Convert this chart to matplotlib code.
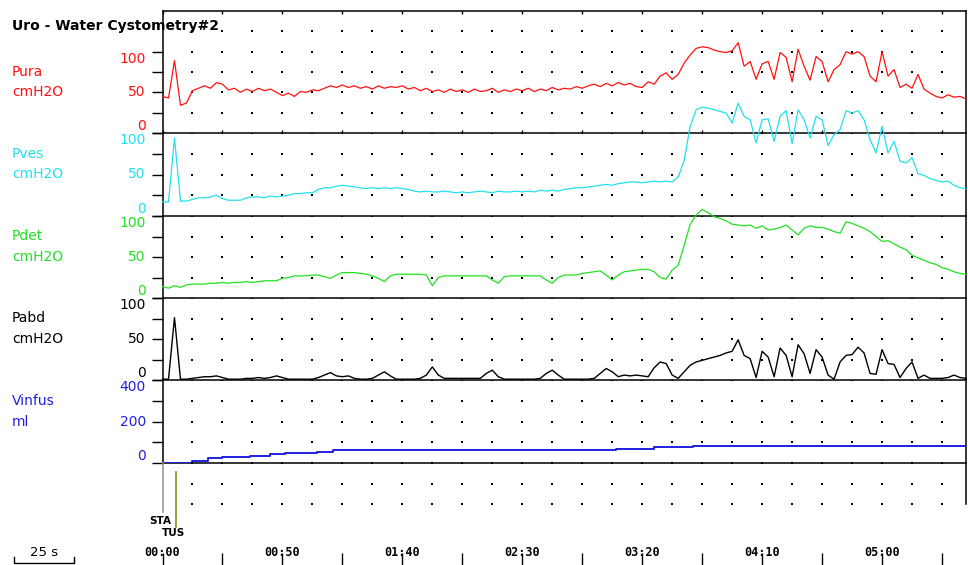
import numpy as np
import matplotlib.pyplot as plt
from matplotlib.transforms import blended_transform_factory

# sample time of the traces (s), one sample every 2.5 s
t = np.arange(0, 335.1, 2.5)

# pressures, cmH2O
pura = [45, 43, 89, 34, 37, 52, 55, 58, 55, 62,
        60, 53, 55, 50, 54, 51, 55, 52, 54, 50,
        46, 49, 45, 51, 50, 53, 52, 55, 58, 56,
        59, 56, 58, 55, 57, 54, 58, 55, 57, 56,
        58, 54, 56, 52, 55, 51, 53, 50, 54, 51,
        53, 50, 54, 51, 52, 55, 50, 53, 51, 54,
        52, 55, 51, 54, 52, 56, 53, 55, 54, 57,
        55, 58, 60, 57, 61, 58, 62, 59, 61, 57,
        56, 63, 60, 70, 74, 66, 72, 86, 96, 104,
        106, 105, 102, 100, 99, 101, 111, 82, 88, 66,
        85, 88, 66, 99, 93, 63, 103, 82, 65, 94,
        88, 63, 78, 84, 100, 97, 100, 94, 70, 63,
        100, 70, 78, 56, 60, 55, 72, 54, 49, 45,
        43, 47, 44, 45, 42]

pves = [17, 17, 94, 18, 18, 20, 22, 22, 23, 25,
        21, 19, 19, 19, 22, 23, 23, 22, 24, 23,
        24, 25, 27, 27, 28, 28, 32, 34, 34, 36,
        37, 36, 35, 34, 33, 34, 33, 34, 33, 34,
        33, 32, 30, 29, 30, 29, 29, 30, 29, 28,
        29, 28, 29, 30, 29, 28, 30, 29, 29, 30,
        29, 30, 29, 31, 30, 31, 30, 32, 33, 34,
        34, 35, 36, 37, 38, 37, 39, 40, 41, 41,
        40, 41, 42, 41, 42, 41, 47, 67, 108, 128,
        131, 130, 128, 126, 124, 112, 136, 120, 116, 88,
        116, 117, 90, 120, 127, 87, 128, 116, 94, 120,
        116, 85, 98, 104, 127, 124, 127, 116, 92, 76,
        108, 76, 90, 66, 64, 70, 51, 49, 45, 43,
        41, 42, 37, 34, 33]

pdet = [14, 12, 15, 13, 16, 17, 17, 17, 18, 18,
        19, 18, 19, 19, 20, 19, 20, 21, 21, 21,
        24, 25, 27, 27, 27, 28, 28, 26, 24, 28,
        31, 31, 31, 30, 29, 27, 24, 20, 27, 29,
        29, 29, 29, 29, 28, 15, 25, 27, 27, 27,
        27, 27, 27, 27, 27, 22, 18, 26, 27, 27,
        27, 27, 27, 27, 22, 18, 25, 28, 28, 28,
        30, 31, 32, 33, 28, 22, 28, 32, 33, 34,
        35, 35, 32, 25, 23, 34, 40, 64, 90, 101,
        108, 104, 99, 97, 94, 90, 89, 88, 89, 85,
        88, 83, 84, 86, 89, 83, 77, 85, 88, 86,
        86, 84, 81, 79, 93, 91, 88, 85, 81, 75,
        69, 70, 66, 62, 59, 52, 49, 46, 43, 41,
        37, 35, 32, 30, 29]

pabd = [1, 1, 76, 1, 1, 2, 3, 4, 4, 5,
        3, 1, 1, 1, 2, 2, 3, 2, 3, 5,
        3, 1, 1, 1, 1, 1, 3, 6, 9, 5,
        4, 5, 2, 1, 1, 2, 6, 10, 5, 1,
        1, 1, 1, 2, 6, 16, 6, 2, 2, 2,
        2, 2, 2, 2, 8, 12, 4, 1, 1, 1,
        1, 1, 1, 2, 8, 12, 6, 1, 1, 1,
        1, 1, 2, 8, 14, 10, 4, 6, 5, 6,
        5, 4, 15, 22, 20, 6, 2, 10, 18, 22,
        24, 26, 28, 30, 33, 35, 49, 30, 26, 3,
        35, 28, 4, 39, 30, 4, 43, 32, 8, 37,
        28, 6, 1, 22, 30, 31, 40, 33, 8, 7,
        37, 20, 19, 3, 14, 22, 2, 6, 2, 2,
        2, 3, 6, 3, 2]

# infused volume, ml (step changes)
vinf_t = [0, 12.5, 19, 25, 36.5, 45, 51, 64.5, 71, 189, 205, 221, 335]
vinf_v = [0, 11, 22, 27, 34, 42, 47, 55, 63, 67, 75, 82, 82]

# event markers
event_t = [0.2, 5.6]
event_lab = ['STA', 'TUS']
event_col = ['#9a9a9a', '#8c8c1e']

names = ['Pura', 'Pves', 'Pdet', 'Pabd', 'Vinfus']
units = ['cmH2O', 'cmH2O', 'cmH2O', 'cmH2O', 'ml']
colors = ['#ff1010', '#22e0ee', '#22e022', '#000000', '#2020e0']
ytops = [150, 100, 100, 100, 400]
majors = [[0, 50, 100], [0, 50, 100], [0, 50, 100], [0, 50, 100], [0, 200, 400]]
minors = [[25, 75], [25, 75], [25, 75], [25, 75], [100, 300]]
dot_levels = [[25, 50, 75, 100, 125], [25, 50, 75, 100], [25, 50, 75, 100],
              [25, 50, 75, 100], [100, 200, 300, 400]]

time_ticks = np.arange(0, 336, 25)
time_labels = ['00:00', '00:50', '01:40', '02:30', '03:20', '04:10', '05:00']
dot_t = np.arange(12.5, 335, 12.5)

##### layout (pixels of the 968x565 picture)
W, H = 968, 565
x0, x1 = 162.5, 966
tops = [11, 133, 216, 298, 380]
bottoms = [133, 216, 298, 380, 463]


def box(top, bottom):
    return [x0 / W, 1 - bottom / H, (x1 - x0) / W, (bottom - top) / H]


fig = plt.figure(figsize=(W / 100, H / 100), dpi=100)
plt.rcParams['font.family'] = ['DejaVu Sans']

for i in range(5):
    ax = fig.add_axes(box(tops[i], bottoms[i]))
    ax.set_facecolor('none')
    ax.set_xlim(0, 335)
    ax.set_ylim(0, ytops[i])

    # dotted grid
    gx, gy = np.meshgrid(dot_t, dot_levels[i])
    ax.scatter(gx.ravel(), gy.ravel(), s=1.6, marker='s', color='black', lw=0, zorder=1)

    # trace
    if i < 4:
        data = [pura, pves, pdet, pabd][i]
        ax.plot(t, data, color=colors[i], lw=0.9 if i < 3 else 1.0, clip_on=False, zorder=3)
    else:
        ax.step(vinf_t, vinf_v, where='post', color=colors[i], lw=1.4, zorder=3)

    for s in ['left', 'right', 'bottom']:
        ax.spines[s].set_linewidth(1.1)
    ax.spines['top'].set_visible(i == 0)
    ax.spines['top'].set_linewidth(1.1)

    ax.set_yticks(majors[i])
    ax.set_yticklabels([str(v) for v in majors[i]], fontsize=10, color=colors[i])
    ax.set_yticks(minors[i], minor=True)
    ax.tick_params(axis='y', which='both', length=8, width=1.0, pad=4, direction='out')
    for lab, va in zip(ax.get_yticklabels(), ['bottom', 'center', 'top']):
        lab.set_va(va)

    ax.set_xticks(time_ticks)
    ax.tick_params(axis='x', which='both', length=0, labelbottom=False)
    if i == 0:
        ax.tick_params(axis='x', top=True, direction='in', length=2.5, width=1.0)

    # channel name and unit
    tr = blended_transform_factory(fig.transFigure, ax.transData)
    ax.text(12 / W, majors[i][1] * 1.5, names[i], transform=tr, color=colors[i],
            fontsize=10, va='center', ha='left')
    ax.text(12 / W, majors[i][1], units[i], transform=tr, color=colors[i],
            fontsize=10, va='center', ha='left')

# status strip below the traces
axs = fig.add_axes(box(463, 504))
axs.set_facecolor('none')
axs.set_xlim(0, 335)
axs.set_ylim(0, 2)
for s in ['left', 'top', 'bottom']:
    axs.spines[s].set_visible(False)
axs.spines['right'].set_linewidth(1.1)
axs.set_xticks([])
axs.set_yticks([])
gx, gy = np.meshgrid(dot_t, [0, 1, 2])
axs.scatter(gx.ravel(), gy.ravel(), s=1.6, marker='s', color='black', lw=0, clip_on=False)
ev_y = [[2, -0.39], [1.56, -1.12]]
ev_ty = [-0.83, -1.41]
for et, lab, c, yy, ty in zip(event_t, event_lab, event_col, ev_y, ev_ty):
    axs.plot([et, et], yy, color=c, lw=1.2, clip_on=False)
    axs.text(et - 1.0, ty, lab, ha='center', va='center', fontsize=7.5,
             fontweight='bold', color='black')

# time axis
axt = fig.add_axes(box(540, 565))
axt.set_facecolor('none')
axt.set_xlim(0, 335)
axt.set_ylim(0, 1)
for s in axt.spines.values():
    s.set_visible(False)
axt.set_yticks([])
axt.set_xticks(time_ticks)
axt.tick_params(axis='x', direction='in', length=8.5, width=1.0, labelbottom=False)
for v, lab in zip(time_ticks[::2], time_labels):
    axt.text(v, 0.48, lab, ha='center', va='center', fontsize=8.5,
             fontweight='bold', family='DejaVu Sans Mono')

# 25 s scale bar
bar_x0 = -62
axt.plot([bar_x0, bar_x0, bar_x0 + 25, bar_x0 + 25], [0.32, 0.09, 0.09, 0.32],
         color='black', lw=1.0, clip_on=False)
axt.text(bar_x0 + 12.5, 0.48, '25 s', ha='center', va='center', fontsize=9.5)

fig.text(12 / W, 1 - 26 / H, 'Uro - Water Cystometry#2', fontsize=10,
         fontweight='bold', va='center', ha='left')

fig.savefig('out.png', dpi=100)
